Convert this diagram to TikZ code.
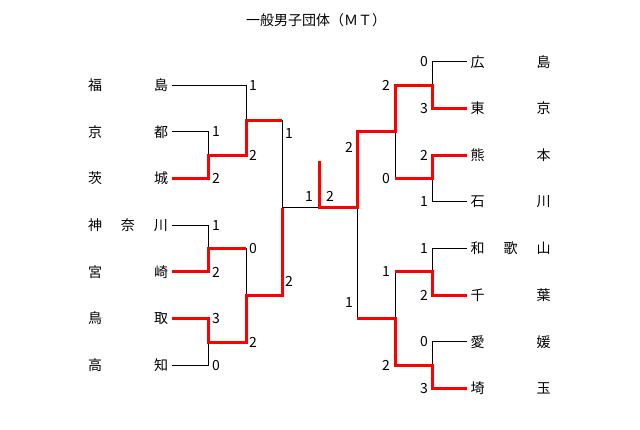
\documentclass[tikz,border=0pt]{standalone}
\usepackage{fontspec}
\setmainfont{Noto Sans CJK JP}
\usetikzlibrary{positioning,calc}

\begin{document}
\begin{tikzpicture}[
x=1pt, y=-1pt,
font=\fontsize{14}{16}\selectfont,
team/.style={
  inner sep=0pt,
  outer xsep=4pt},
score/.style={
  inner sep=0pt},
bline/.style={
  draw=black,
  line width=1pt},
win/.style={
  draw=red,
  line width=3pt}
]
\useasboundingbox (0,0) rectangle (640,429);
\node (title) at (316,20) {一般男子団体（ＭＴ）};
% teams
\foreach \nm/\txt [count=\i] in {fk/福\hfill 島, kt/京\hfill 都, ib/茨\hfill 城,
  kn/神\hfill 奈\hfill 川, mz/宮\hfill 崎, tt/鳥\hfill 取, kc/高\hfill 知}
  \node[team, anchor=east] (\nm) at (172,{85.3+46.67*(\i-1)}) {\makebox[80pt]{\txt}};
\foreach \nm/\txt [count=\i] in {hs/広\hfill 島, tk/東\hfill 京, km/熊\hfill 本,
  is/石\hfill 川, wk/和\hfill 歌\hfill 山, cb/千\hfill 葉, eh/愛\hfill 媛, st/埼\hfill 玉}
  \node[team, anchor=west] (\nm) at (466.5,{61.7+46.67*(\i-1)}) {\makebox[80pt]{\txt}};
% junctions
\coordinate (m1) at (246,120.3);
\coordinate (m2) at (208,155.3);
\coordinate (m3) at (208,248.6);
\coordinate (m4) at (208,342);
\coordinate (m5) at (246,295.3);
\coordinate (s1) at (282,207.8);
\coordinate (fn) at (319,207.8);
\coordinate (fw) at (319,160.7);
\coordinate (s2) at (357,207.8);
\coordinate (r1) at (395,131.7);
\coordinate (r2) at (432,85);
\coordinate (r3) at (432,178.3);
\coordinate (r4) at (395,318.3);
\coordinate (r5) at (432,271.7);
\coordinate (r6) at (432,365);
% bracket
\draw[bline] (fk.east) -| (m1) (kt.east) -| (m2) (ib.east) -| (m2) (m2) -| (m1)
  (kn.east) -| (m3) (mz.east) -| (m3) (tt.east) -| (m4) (kc.east) -| (m4)
  (m3) -| (m5) (m4) -| (m5) (m1) -| (s1) (m5) -| (s1) (s1) -- (fn) -- (s2);
\draw[bline] (hs.west) -| (r2) (tk.west) -| (r2) (km.west) -| (r3) (is.west) -| (r3)
  (r2) -| (r1) (r3) -| (r1) (wk.west) -| (r5) (cb.west) -| (r5)
  (eh.west) -| (r6) (st.west) -| (r6) (r5) -| (r4) (r6) -| (r4)
  (r1) -| (s2) (r4) -| (s2);
% winners
\draw[win] (ib.east) -| (m2) -| (m1) -- (m1 -| s1);
\draw[win] (mz.east) -| (m3) -- (m3 -| m5);
\draw[win] (tt.east) -| (m4) -| (m5) -| (s1);
\draw[win] (tk.west) -| (r2) -| (r1) -| (s2) -- (fn) -- (fw);
\draw[win] (km.west) -| (r3) -- (r3 -| r1);
\draw[win] (cb.west) -| (r5) -- (r5 -| r4);
\draw[win] (st.west) -| (r6) -| (r4) -- (r4 -| s2);
% scores
\foreach \x/\y/\s [count=\i] in {253/85.3/1, 216/132/1, 216/178.6/2, 253/155.3/2,
  289/134/1, 216/225.3/1, 216/272/2, 253/248.6/0, 216/318.6/3, 216/365.3/0,
  253/342/2, 289/281/2, 309/196.5/1, 330/196.5/2,
  424/61.7/0, 424/108.4/3, 386/85.5/2, 424/155/2, 424/201.7/1, 386/178.3/0,
  349/147.3/2, 424/248.4/1, 424/295/2, 386/271.7/1, 424/341.7/0, 424/388.4/3,
  386/365.5/2, 349/303/1}
  \node[score] (sc\i) at (\x,\y) {\s};
\end{tikzpicture}
\end{document}
